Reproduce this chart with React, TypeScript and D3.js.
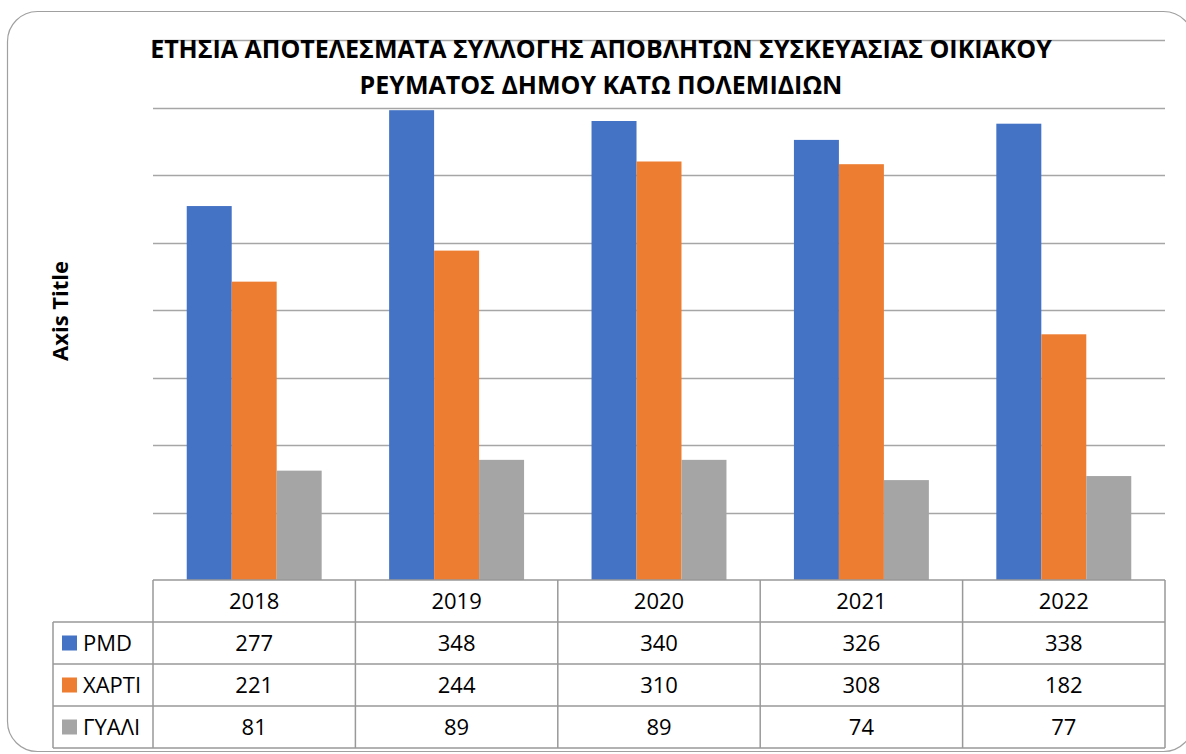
import React from "react";
import * as d3 from "d3";

const years = ["2018", "2019", "2020", "2021", "2022"];
const seriesNames = ["PMD", "ΧΑΡΤΙ", "ΓΥΑΛΙ"];
const pmd = [277, 348, 340, 326, 338];
const xarti = [221, 244, 310, 308, 182];
const gyali = [81, 89, 89, 74, 77];
const seriesValues = [pmd, xarti, gyali];
const colors = ["#4472C4", "#ED7D31", "#A5A5A5"];
const yTicks = [0, 50, 100, 150, 200, 250, 300, 350, 400];
const titleLines = [
  "ΕΤΗΣΙΑ ΑΠΟΤΕΛΕΣΜΑΤΑ ΣΥΛΛΟΓΗΣ ΑΠΟΒΛΗΤΩΝ ΣΥΣΚΕΥΑΣΙΑΣ ΟΙΚΙΑΚΟΥ",
  "ΡΕΥΜΑΤΟΣ ΔΗΜΟΥ ΚΑΤΩ ΠΟΛΕΜΙΔΙΩΝ",
];

export default function App() {
  const W = 1186, H = 754;
  const left = 153, right = 1165, top = 40, bottom = 580;
  const x = d3.scaleBand<string>().domain(years).range([left, right]).padding(0);
  const xi = d3.scaleBand<string>().domain(seriesNames).range([0, x.bandwidth()]).paddingInner(0).paddingOuter(0.75);
  const y = d3.scaleLinear().domain([0, 400]).range([bottom, top]);
  const rowH = 42;
  const tableLeft = 53;
  const font = "'Open Sans', 'Noto Sans', sans-serif";
  const lineColor = "#a6a6a6";
  const tableColor = "#999999";
  return (
    <svg width={W} height={H} style={{ position: "absolute", left: 0, top: 0, background: "#fff" }} fontFamily={font}>
      <rect x={7.5} y={11.5} width={1186} height={740} rx={30} ry={30} fill="#fff" stroke="#a0a0a0" strokeWidth={1.2} />
      {yTicks.filter((t) => t > 0).map((t) => (
        <line key={t} x1={left} x2={right} y1={Math.round(y(t)) + 0.5} y2={Math.round(y(t)) + 0.5} stroke={lineColor} strokeWidth={1.3} />
      ))}
      {seriesValues.map((vals, si) =>
        vals.map((v, i) => (
          <rect key={si + "-" + i} x={(x(years[i]) as number) + (xi(seriesNames[si]) as number)} y={y(v)} width={xi.bandwidth()} height={bottom - y(v)} fill={colors[si]} />
        ))
      )}
      {titleLines.map((t, i) => (
        <text key={i} x={601} y={58 + i * 36} textAnchor="middle" fontWeight="bold" fontSize={25} fill="#000">{t}</text>
      ))}
      <text transform={`translate(68,311) rotate(-90)`} textAnchor="middle" fontWeight="bold" fontSize={22} fill="#000">Axis Title</text>
      {/* table */}
      <g stroke={tableColor} strokeWidth={1.5} fill="none">
        <line x1={left} x2={right} y1={bottom} y2={bottom} />
        {[1, 2, 3, 4].map((r) => (
          <line key={r} x1={tableLeft} x2={right} y1={bottom + r * rowH} y2={bottom + r * rowH} />
        ))}
        <line x1={tableLeft} x2={tableLeft} y1={bottom + rowH} y2={bottom + 4 * rowH} />
        {years.map((yr) => (
          <line key={yr} x1={x(yr)} x2={x(yr)} y1={bottom} y2={bottom + 4 * rowH} />
        ))}
        <line x1={right} x2={right} y1={bottom} y2={bottom + 4 * rowH} />
      </g>
      {years.map((yr) => (
        <text key={yr} x={(x(yr) as number) + x.bandwidth() / 2} y={bottom + rowH / 2 + 8} textAnchor="middle" fontSize={22} fill="#000">{yr}</text>
      ))}
      {seriesNames.map((s, si) => (
        <g key={s}>
          <rect x={62} y={bottom + (si + 1) * rowH + rowH / 2 - 7.5} width={15} height={15} fill={colors[si]} />
          <text x={83} y={bottom + (si + 1) * rowH + rowH / 2 + 8} fontSize={22} fill="#000">{s}</text>
          {seriesValues[si].map((v, i) => (
            <text key={i} x={(x(years[i]) as number) + x.bandwidth() / 2} y={bottom + (si + 1) * rowH + rowH / 2 + 8} textAnchor="middle" fontSize={22} fill="#000">{v}</text>
          ))}
        </g>
      ))}
    </svg>
  );
}
